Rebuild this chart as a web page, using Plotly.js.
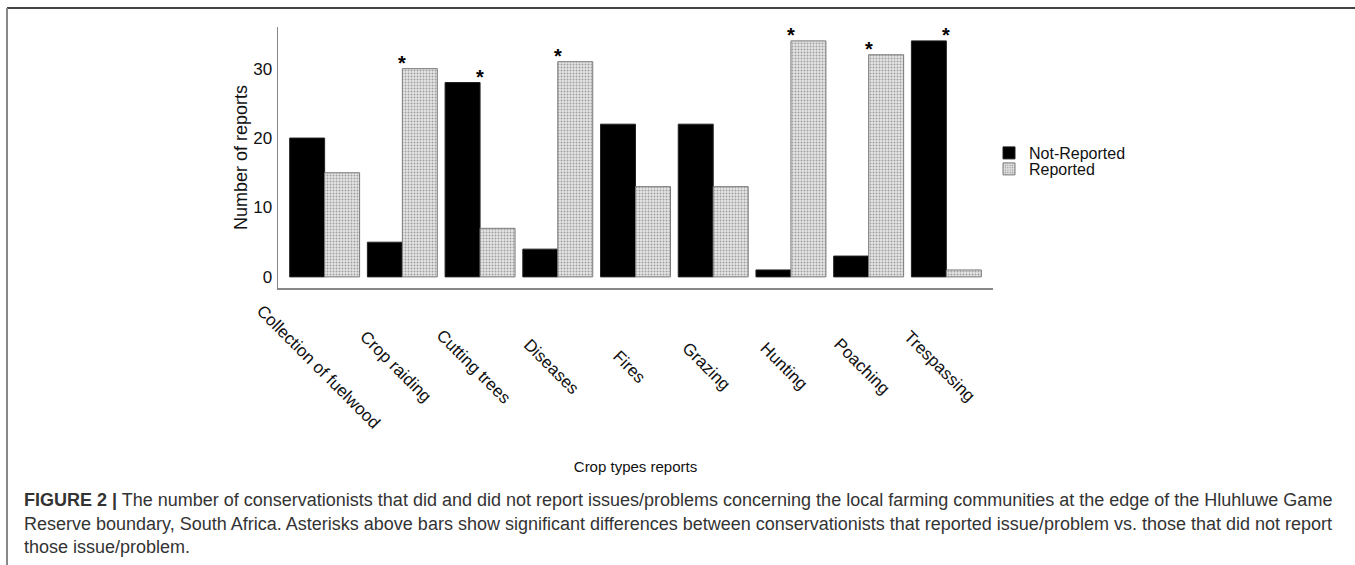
<!DOCTYPE html>
<html>
<head>
<meta charset="utf-8">
<script src="https://cdn.plot.ly/plotly-3.0.1.min.js"></script>
<style>html,body{margin:0;padding:0;background:#fff;}#chart{width:1355px;height:565px;}</style>
</head>
<body>
<div id="chart"></div>
<script>
// ---- data ----
const categories = ["Collection of fuelwood", "Crop raiding", "Cutting trees", "Diseases", "Fires", "Grazing", "Hunting", "Poaching", "Trespassing"];
const notReported = [20, 5, 28, 4, 22, 22, 1, 3, 34];
const reported = [15, 30, 7, 31, 13, 13, 34, 32, 1];
const significant = [false, true, true, true, false, false, true, true, true];
const yTicks = [0, 10, 20, 30];
const seriesNames = ["Not-Reported", "Reported"];
const yTitle = "Number of reports";
const xTitle = "Crop types reports";
const captionLines = [
  "<b>FIGURE 2 |</b> The number of conservationists that did and did not report issues/problems concerning the local farming communities at the edge of the Hluhluwe Game",
  "Reserve boundary, South Africa. Asterisks above bars show significant differences between conservationists that reported issue/problem vs. those that did not report",
  "those issue/problem."
];

// ---- geometry helpers ----
const W = 1355, H = 565;
const M = {l: 278, r: 362, t: 27, b: 277};
const PW = W - M.l - M.r, PH = H - M.t - M.b;
const px = x => (x - M.l) / PW;
const py = y => (H - M.b - y) / PH;
const FONT = "Liberation Sans, Arial, sans-serif";

const traces = [
  {
    type: "bar", name: seriesNames[0], x: categories, y: notReported,
    marker: {color: "#000000", line: {color: "#222222", width: 1}},
    legend: "legend", hoverinfo: "x+y+name"
  },
  {
    type: "bar", name: seriesNames[1], x: categories, y: reported,
    marker: {
      color: "#dcdcdc",
      line: {color: "#7a7a7a", width: 1},
      pattern: {shape: ".", size: 3, solidity: 0.35, fgcolor: "#a0a0a0", bgcolor: "#e6e6e6", fillmode: "replace"}
    },
    legend: "legend2", hoverinfo: "x+y+name"
  }
];

const annotations = [];
// rotated category labels
categories.forEach((c, i) => {
  annotations.push({
    x: c, xref: "x", y: py(367), yref: "paper", text: c, showarrow: false,
    textangle: 45, xanchor: "center", yanchor: "middle", xshift: -7,
    font: {family: FONT, size: 17, color: "#111"}
  });
});
// significance asterisks
categories.forEach((c, i) => {
  if (!significant[i]) return;
  annotations.push({
    x: c, xref: "x", y: Math.max(notReported[i], reported[i]), yref: "y",
    text: "<b>*</b>", showarrow: false, xanchor: "center", yanchor: "middle", yshift: 6,
    font: {family: FONT, size: 20, color: "#000"}
  });
});
// caption
const capY = [500, 524, 547];
captionLines.forEach((t, i) => {
  annotations.push({
    x: px(22), xref: "paper", y: py(capY[i]), yref: "paper", text: t, showarrow: false,
    xanchor: "left", yanchor: "middle", align: "left",
    font: {family: FONT, size: 18, color: "#333"}
  });
});

const shapes = [
  {type: "line", xref: "paper", yref: "paper", x0: px(7), x1: px(1360), y0: py(8), y1: py(8), line: {color: "#444", width: 2}},
  {type: "line", xref: "paper", yref: "paper", x0: px(7), x1: px(7), y0: py(8), y1: py(570), line: {color: "#888", width: 2}}
];

const layout = {
  width: W, height: H,
  margin: M,
  paper_bgcolor: "#fff", plot_bgcolor: "#fff",
  font: {family: FONT, size: 16, color: "#111"},
  barmode: "group", bargap: 0.1, bargroupgap: 0,
  showlegend: true,
  legend: {x: px(989), xanchor: "left", y: py(153), yanchor: "middle", bgcolor: "rgba(0,0,0,0)", borderwidth: 0, font: {family: FONT, size: 16, color: "#111"}, itemwidth: 30},
  legend2: {x: px(989), xanchor: "left", y: py(169), yanchor: "middle", bgcolor: "rgba(0,0,0,0)", borderwidth: 0, font: {family: FONT, size: 16, color: "#111"}, itemwidth: 30},
  xaxis: {
    type: "category", range: [-0.6, 8.6], showticklabels: false, ticks: "",
    showline: true, linecolor: "#888", linewidth: 1.5, showgrid: false, zeroline: false,
    title: {text: xTitle, standoff: 173, font: {family: FONT, size: 15, color: "#111"}},
    automargin: false
  },
  yaxis: {
    range: [-1.6, 36], tickvals: yTicks, ticktext: yTicks.map(String), ticks: "",
    ticklabelstandoff: 1,
    showline: true, linecolor: "#888", linewidth: 1.5, showgrid: false, zeroline: false,
    tickfont: {family: FONT, size: 17, color: "#111"},
    title: {text: yTitle, standoff: 1, font: {family: FONT, size: 18, color: "#111"}},
    automargin: false
  },
  annotations: annotations,
  shapes: shapes
};

Plotly.newPlot("chart", traces, layout, {displayModeBar: false, staticPlot: true});
</script>
</body>
</html>
